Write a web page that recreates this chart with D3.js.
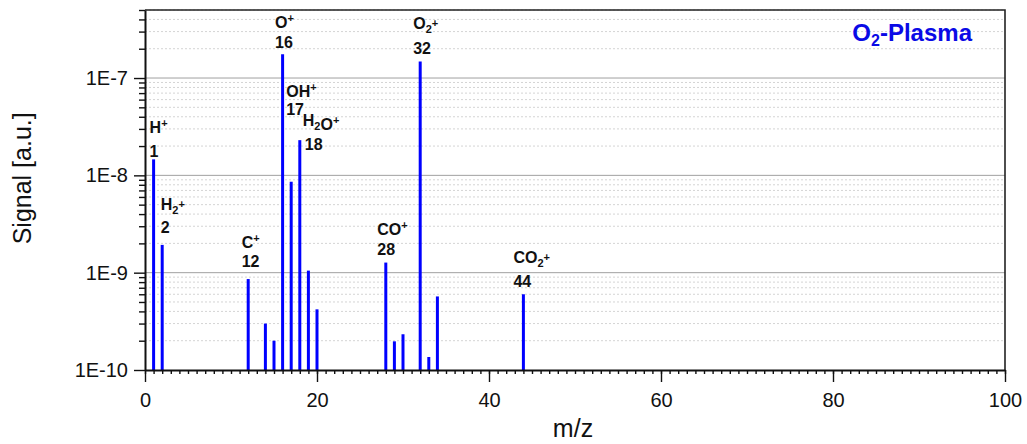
<!DOCTYPE html>
<html lang="en">
<head>
    <meta charset="UTF-8">
    <title>O2-Plasma mass spectrum</title>
    <script src="https://d3js.org/d3.v7.min.js"></script>
    <style>
        body { margin: 0; background: #fff; }
        svg text { font-family: "Liberation Sans", Arial, sans-serif; }
    </style>
</head>
<body>
    <svg id="chart" width="1027" height="444"></svg>

    <script>
        // m/z of every peak and its signal (a.u.)
        const massNumbers = [1, 2, 12, 14, 15, 16, 17, 18, 19, 20, 28, 29, 30, 32, 33, 34, 44];
        const signalValues = [1.46e-8, 1.93e-9, 8.6e-10, 3.0e-10, 2.0e-10, 1.76e-7, 8.6e-9, 2.3e-8,
            1.05e-9, 4.2e-10, 1.27e-9, 1.97e-10, 2.33e-10, 1.48e-7, 1.36e-10, 5.7e-10, 6.0e-10];

        // labelled peaks
        const labelMasses = [1, 2, 12, 16, 17, 18, 28, 32, 44];
        const ionNames = ["H", "H2", "C", "O", "OH", "H2O", "CO", "O2", "CO2"];

        const xTicks = [0, 20, 40, 60, 80, 100];
        const yTicks = [1e-10, 1e-9, 1e-8, 1e-7];

        const svg = d3.select("#chart");
        const margin = { top: 10, right: 22, bottom: 74, left: 145 };
        const width = +svg.attr("width") - margin.left - margin.right;
        const height = +svg.attr("height") - margin.top - margin.bottom;

        const g = svg.append("g").attr("transform", `translate(${margin.left},${margin.top})`);

        const x = d3.scaleLinear().domain([0, 100]).range([0, width]);
        const y = d3.scaleLog().domain([1e-10, 5e-7]).range([height, 0]);

        // minor values 2..9 for every decade
        const minorY = [];
        yTicks.forEach(d => {
            for (let k = 2; k <= 9; k++) {
                if (d * k <= 5e-7 * 1.0001) minorY.push(d * k);
            }
        });

        // grid
        g.append("g").selectAll("line")
            .data(minorY)
            .enter().append("line")
            .attr("x1", 0).attr("x2", width)
            .attr("y1", d => y(d)).attr("y2", d => y(d))
            .attr("stroke", "#d4d4d4")
            .attr("stroke-dasharray", "2,2");

        g.append("g").selectAll("line")
            .data(yTicks.slice(1))
            .enter().append("line")
            .attr("x1", 0).attr("x2", width)
            .attr("y1", d => y(d)).attr("y2", d => y(d))
            .attr("stroke", "#a0a0a0");

        // bars
        const peaks = massNumbers.map((m, i) => ({ mz: m, value: signalValues[i] }));
        g.append("g").selectAll("line")
            .data(peaks)
            .enter().append("line")
            .attr("x1", d => x(d.mz)).attr("x2", d => x(d.mz))
            .attr("y1", height).attr("y2", d => y(d.value))
            .attr("stroke", "#0000ff")
            .attr("stroke-width", 3);

        // frame (top / right)
        g.append("path")
            .attr("d", `M0,0H${width}V${height}`)
            .attr("fill", "none")
            .attr("stroke", "#222")
            .attr("stroke-width", 1.6);

        // axes
        const xMinor = g.append("g")
            .attr("transform", `translate(0,${height})`)
            .call(d3.axisBottom(x).tickValues(d3.range(0, 101, 1)).tickSize(4).tickSizeOuter(0).tickFormat(""));
        xMinor.select(".domain").remove();

        const xAxis = g.append("g")
            .attr("transform", `translate(0,${height})`)
            .call(d3.axisBottom(x).tickValues(xTicks).tickSize(12).tickSizeOuter(0).tickPadding(11));

        const yMinor = g.append("g")
            .call(d3.axisLeft(y).tickValues(minorY).tickSize(6).tickSizeOuter(0).tickFormat(""));
        yMinor.select(".domain").remove();

        const yAxis = g.append("g")
            .call(d3.axisLeft(y).tickValues(yTicks).tickSize(11).tickSizeOuter(0).tickPadding(6)
                .tickFormat(d => "1E" + Math.round(Math.log10(d))));

        [xAxis, yAxis, xMinor, yMinor].forEach(a => {
            a.selectAll("line").attr("stroke", "#111").attr("stroke-width", 1.4);
            a.select(".domain").attr("stroke", "#111").attr("stroke-width", 2);
            a.selectAll("text").style("font-size", "20px").attr("fill", "#111");
        });

        // axis titles
        svg.append("text")
            .attr("x", margin.left + x(50) - 2)
            .attr("y", 437)
            .attr("text-anchor", "middle")
            .style("font-size", "25px")
            .attr("fill", "#111")
            .text("m/z");

        svg.append("text")
            .attr("text-anchor", "middle")
            .attr("transform", `translate(31, ${margin.top + y(1.1e-8) + 7})rotate(-90)`)
            .style("font-size", "25px")
            .attr("fill", "#111")
            .text("Signal [a.u.]");

        // peak labels: offsets (px) relative to the top of each bar
        const labelOffsets = {
            1: { dx: -4, num: -2, name: -26 },
            2: { dx: -1.5, num: -12, name: -35 },
            12: { dx: -6.5, num: -12, name: -31 },
            16: { dx: -7.5, num: -6, name: -26 },
            17: { dx: -5, num: -67, name: -85 },
            18: { dx: 5, num: 10, name: -14, ndx: -2 },
            28: { dx: -8.5, num: -8, name: -28 },
            32: { dx: -7, num: -7, name: -32 },
            44: { dx: -10, num: -7, name: -31 }
        };

        function ionLabel(sel, name) {
            name.split("").forEach(ch => {
                if (/[0-9]/.test(ch)) {
                    sel.append("tspan").attr("dy", 4).style("font-size", "11px").text(ch);
                    sel.append("tspan").attr("dy", -4).text("");
                } else {
                    sel.append("tspan").text(ch);
                }
            });
            sel.append("tspan").attr("dy", -6).style("font-size", "11px").text("+");
        }

        const labels = g.append("g")
            .style("font-weight", "bold")
            .style("font-size", "16px")
            .attr("fill", "#111");

        labelMasses.forEach((m, i) => {
            const o = labelOffsets[m];
            const top = y(signalValues[massNumbers.indexOf(m)]);
            labels.append("text")
                .attr("x", x(m) + o.dx)
                .attr("y", top + o.num)
                .text(m);
            const t = labels.append("text")
                .attr("x", x(m) + o.dx + (o.ndx || 0))
                .attr("y", top + o.name);
            ionLabel(t, ionNames[i]);
        });

        // plot title
        const title = g.append("text")
            .attr("x", width - 33)
            .attr("y", 31)
            .attr("text-anchor", "end")
            .style("font-size", "24px")
            .style("font-weight", "bold")
            .attr("fill", "#0a0ae6");
        title.append("tspan").text("O");
        title.append("tspan").attr("dy", 5).style("font-size", "16px").text("2");
        title.append("tspan").attr("dy", -5).text("-Plasma");
    </script>
</body>
</html>
